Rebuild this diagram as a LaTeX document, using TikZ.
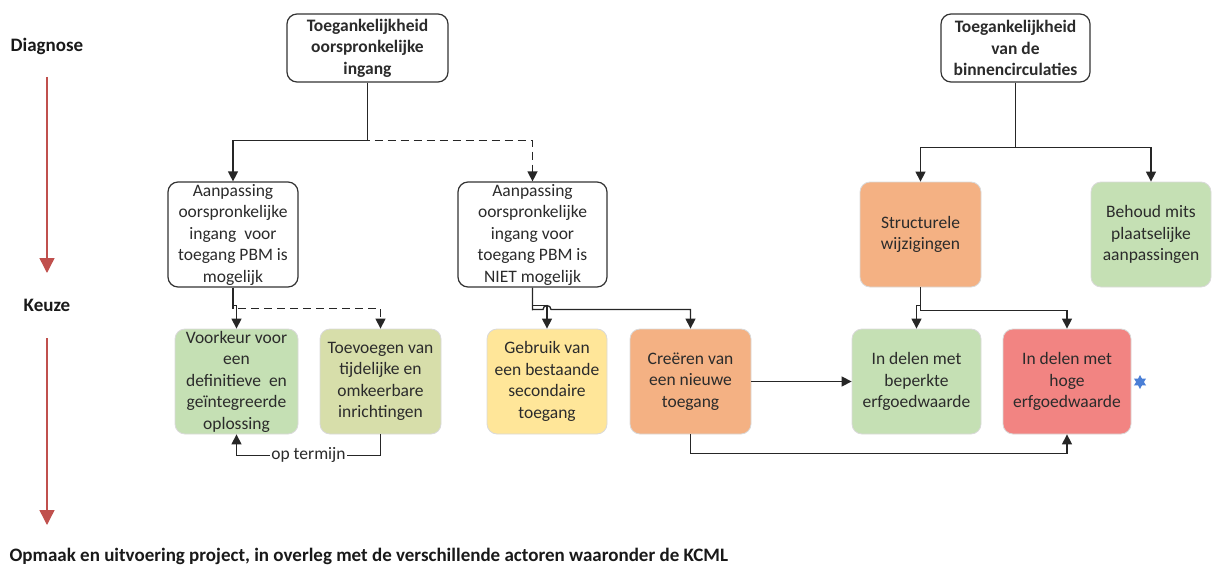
\documentclass[tikz,border=0pt]{standalone}
\usepackage{fontspec}
\setmainfont{Carlito}
\usetikzlibrary{arrows.meta,shapes.geometric}
\definecolor{oranje}{HTML}{F4B183}
\definecolor{groen}{HTML}{C5E0B4}
\definecolor{geel}{HTML}{FFE699}
\definecolor{olijf}{HTML}{D7DEAA}
\definecolor{rood}{HTML}{F28482}
\definecolor{pijlrood}{HTML}{C0504D}
\definecolor{tekst}{HTML}{2B2B2B}
\definecolor{sterblauw}{HTML}{4A7FD6}
\begin{document}
\begin{tikzpicture}[x=1pt,y=-1pt,
    every node/.style={font=\fontsize{17.5}{21.5}\selectfont, text=tekst},
    wit/.style={draw=black!80, line width=1.2pt, rounded corners=10pt, fill=white, align=center, inner sep=0pt},
    kleur/.style={draw=black!15, line width=0.8pt, rounded corners=10pt, align=center, inner sep=0pt, minimum width=121pt, minimum height=105pt},
    lijn/.style={line width=1.3pt, black!85, -{Triangle[width=10pt,length=10pt]}},
    stippel/.style={lijn, dash pattern=on 8pt off 5pt},
    fase/.style={font=\fontsize{19}{23}\selectfont\bfseries, text=black!90}]
\useasboundingbox (0,0) rectangle (1212,567);

% fasen links
\node[fase] (diag) at (47,46) {Diagnose};
\node[fase] (keuze) at (47,305) {Keuze};
\node[fase, anchor=west] (opmaak) at (6,556) {Opmaak en uitvoering project, in overleg met de verschillende actoren waaronder de KCML};
\coordinate (r1a) at (47,77);
\coordinate (r1b) at (47,273);
\coordinate (r2a) at (47,338);
\coordinate (r2b) at (47,525);
\draw[pijlrood, line width=1.4pt, -{Triangle[width=15pt,length=15pt]}] (r1a) -- (r1b);
\draw[pijlrood, line width=1.4pt, -{Triangle[width=15pt,length=15pt]}] (r2a) -- (r2b);

% bovenste rij
\node[wit, font=\fontsize{17.5}{21.5}\selectfont\bfseries, minimum width=161pt, minimum height=68pt] (ingang) at (367.5,48) {Toegankelijkheid\\oorspronkelijke\\ingang};
\node[wit, font=\fontsize{17.5}{21.5}\selectfont\bfseries, minimum width=149pt, minimum height=68pt] (circ) at (1015.5,48) {Toegankelijkheid\\van de\\binnencirculaties};

% middelste rij
\node[wit, minimum width=130pt, minimum height=105pt] (mogelijk) at (233,234.5) {Aanpassing\\oorspronkelijke\\ingang\ \ voor\\toegang PBM is\\mogelijk};
\node[wit, minimum width=149pt, minimum height=105pt] (niet) at (532.5,234.5) {Aanpassing\\oorspronkelijke\\ingang voor\\toegang PBM is\\NIET mogelijk};
\node[kleur, fill=oranje] (struct) at (920.5,234.5) {Structurele\\wijzigingen};
\node[kleur, fill=groen, minimum width=120pt] (behoud) at (1151,234.5) {Behoud mits\\plaatselijke\\aanpassingen};

% onderste rij
\node[kleur, fill=groen, minimum width=123pt] (voorkeur) at (236.5,381.5) {Voorkeur voor\\een\\definitieve\ \ en\\geïntegreerde\\oplossing};
\node[kleur, fill=olijf] (tijdelijk) at (380.5,381.5) {Toevoegen van\\tijdelijke en\\omkeerbare\\inrichtingen};
\node[kleur, fill=geel, minimum width=120pt] (bestaand) at (547,381.5) {Gebruik van\\een bestaande\\secondaire\\toegang};
\node[kleur, fill=oranje] (nieuw) at (690.5,381.5) {Creëren van\\een nieuwe\\toegang};
\node[kleur, fill=groen, minimum width=129pt] (beperkt) at (916.5,381.5) {In delen met\\beperkte\\erfgoedwaarde};
\node[kleur, fill=rood, minimum width=128pt] (hoog) at (1067,381.5) {In delen met\\hoge\\erfgoedwaarde};
\node[star, star points=6, star point ratio=1.8, fill=sterblauw, inner sep=0pt, minimum size=14pt] (ster) at (1140,382) {};

% verbindingen
\draw[lijn] (ingang.south) -- ++(0,58) -| (mogelijk.north);
\draw[stippel] (ingang.south) -- ++(0,58) -| (niet.north);
\draw[lijn] (circ.south) -- ++(0,65) -| (struct.north);
\draw[lijn] (circ.south) -- ++(0,65) -| (behoud.north);

\draw[lijn] (mogelijk.south) -- ++(0,18) -| (voorkeur.north);
\draw[stippel] (mogelijk.south) -- ++(0,21) -| (tijdelijk.north);
\draw[lijn] (niet.south) -- ++(0,18) -| (bestaand.north);
\coordinate (hop) at (543,309.5);
\draw[lijn] (niet.south) -- ++(0,22) -- (hop) arc[start angle=180, end angle=360, radius=4] -| (nieuw.north);
\draw[lijn] (struct.south) -- ++(0,18) -| (beperkt.north);
\draw[lijn] (struct.south) -- ++(0,23) -| (hoog.north);

\draw[lijn] (tijdelijk.south) -- ++(0,21) -| node[pos=0.25, fill=white, inner sep=1pt] (termijn) {op termijn} (voorkeur.south);
\draw[lijn] (nieuw.east) -- (beperkt.west);
\draw[lijn] (nieuw.south) -- ++(0,19) -| (hoog.south);
\end{tikzpicture}
\end{document}
